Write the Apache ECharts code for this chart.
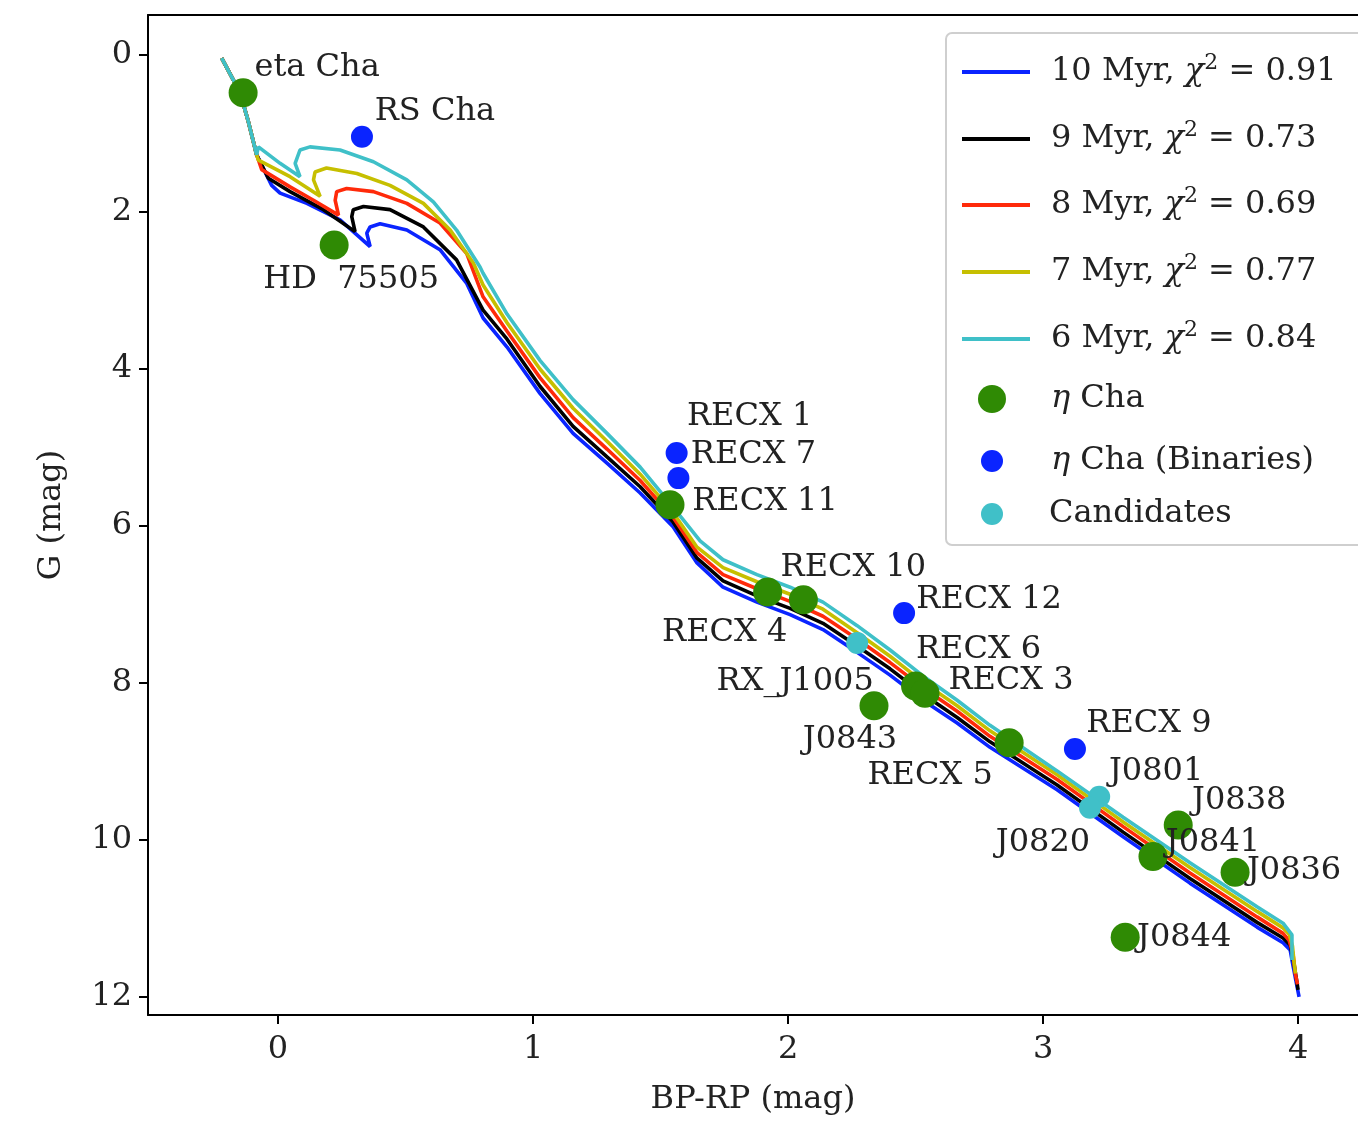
<!DOCTYPE html>
<html>
<head>
<meta charset="utf-8">
<script src="https://cdn.jsdelivr.net/npm/echarts@6/dist/echarts.min.js"></script>
<style>
  html, body { margin: 0; padding: 0; background: #fff; }
  #chart { width: 1358px; height: 1122px; }
</style>
</head>
<body>
<div id="chart"></div>
<script>
// ---------- DATA ----------
const ages = ['10', '9', '8', '7', '6'];
const chi2 = ['0.91', '0.73', '0.69', '0.77', '0.84'];

const iso10 = [[-0.221,0.04],[-0.149,0.48],[-0.118,0.83],[-0.084,1.27],[-0.051,1.49],[-0.025,1.66],[0.008,1.76],[0.113,1.89],[0.243,2.10],[0.361,2.44],[0.348,2.27],[0.361,2.19],[0.40,2.15],[0.505,2.23],[0.635,2.48],[0.74,2.91],[0.804,3.35],[0.898,3.72],[1.027,4.31],[1.157,4.82],[1.29,5.20],[1.42,5.58],[1.549,6.01],[1.643,6.47],[1.745,6.78],[1.878,6.97],[2.008,7.13],[2.137,7.32],[2.271,7.61],[2.40,7.90],[2.529,8.22],[2.663,8.51],[2.792,8.82],[3.055,9.36],[3.314,9.96],[3.576,10.55],[3.839,11.11],[3.941,11.31],[3.969,11.40],[3.976,11.53],[3.996,11.87],[4.004,12.00]];
const iso9 = [[-0.221,0.04],[-0.149,0.48],[-0.118,0.83],[-0.084,1.27],[-0.038,1.57],[0.047,1.74],[0.178,1.97],[0.302,2.25],[0.289,2.06],[0.295,1.97],[0.335,1.93],[0.439,1.97],[0.57,2.19],[0.70,2.61],[0.804,3.25],[0.898,3.62],[1.027,4.22],[1.157,4.73],[1.29,5.12],[1.42,5.50],[1.549,5.95],[1.643,6.41],[1.745,6.70],[1.878,6.89],[2.008,7.05],[2.137,7.24],[2.271,7.53],[2.40,7.82],[2.529,8.14],[2.663,8.44],[2.792,8.75],[3.055,9.30],[3.314,9.90],[3.576,10.49],[3.839,11.05],[3.941,11.25],[3.969,11.34],[3.98,11.50],[3.995,11.80],[4.0,11.91]];
const iso8 = [[-0.221,0.04],[-0.149,0.48],[-0.118,0.83],[-0.084,1.27],[-0.064,1.46],[0.047,1.68],[0.139,1.85],[0.237,2.04],[0.224,1.85],[0.23,1.74],[0.269,1.70],[0.374,1.74],[0.505,1.89],[0.635,2.14],[0.74,2.53],[0.804,3.08],[0.898,3.52],[1.027,4.11],[1.157,4.62],[1.29,5.02],[1.42,5.42],[1.549,5.89],[1.643,6.34],[1.745,6.62],[1.878,6.80],[2.008,6.96],[2.137,7.15],[2.271,7.44],[2.40,7.74],[2.529,8.06],[2.663,8.36],[2.792,8.68],[3.055,9.23],[3.314,9.83],[3.576,10.42],[3.839,10.98],[3.941,11.19],[3.965,11.28],[3.98,11.45],[3.99,11.72],[3.998,11.84]];
const iso7 = [[-0.221,0.04],[-0.149,0.48],[-0.118,0.83],[-0.084,1.27],[-0.077,1.34],[0.047,1.55],[0.165,1.80],[0.139,1.59],[0.145,1.49],[0.19,1.44],[0.309,1.51],[0.439,1.66],[0.57,1.89],[0.675,2.23],[0.766,2.65],[0.804,2.93],[0.898,3.41],[1.027,4.00],[1.157,4.50],[1.29,4.92],[1.42,5.34],[1.549,5.83],[1.643,6.27],[1.745,6.53],[1.878,6.71],[2.008,6.87],[2.137,7.06],[2.271,7.36],[2.40,7.66],[2.529,7.99],[2.663,8.29],[2.792,8.61],[3.055,9.17],[3.314,9.77],[3.576,10.35],[3.839,10.91],[3.941,11.12],[3.965,11.20],[3.978,11.35],[3.985,11.58],[3.99,11.70]];
const iso6 = [[-0.221,0.04],[-0.149,0.48],[-0.118,0.83],[-0.084,1.27],[-0.077,1.17],[0.008,1.38],[0.086,1.55],[0.067,1.38],[0.086,1.21],[0.125,1.17],[0.243,1.21],[0.374,1.36],[0.505,1.59],[0.609,1.87],[0.70,2.23],[0.792,2.70],[0.804,2.78],[0.898,3.30],[1.027,3.89],[1.157,4.39],[1.29,4.82],[1.42,5.25],[1.549,5.76],[1.655,6.19],[1.745,6.43],[1.878,6.62],[2.008,6.78],[2.137,6.97],[2.271,7.27],[2.40,7.58],[2.529,7.91],[2.663,8.22],[2.792,8.54],[3.055,9.12],[3.314,9.71],[3.576,10.29],[3.839,10.85],[3.941,11.06],[3.976,11.21],[3.976,11.53]];

const etaNames = ['eta Cha', 'HD  75505', 'RECX 11', 'RECX 4', 'RECX 10', 'RECX 6', 'RECX 3', 'J0843', 'RECX 5', 'J0838', 'J0841', 'J0836', 'J0844'];
const etaBP = [-0.137, 0.22, 1.537, 1.92, 2.06, 2.50, 2.537, 2.337, 2.867, 3.53, 3.431, 3.753, 3.322];
const etaG  = [0.48, 2.42, 5.73, 6.84, 6.94, 8.04, 8.13, 8.29, 8.76, 9.81, 10.21, 10.41, 11.24];

const binNames = ['RS Cha', 'RECX 1', 'RECX 7', 'RECX 12', 'RECX 9'];
const binBP = [0.329, 1.563, 1.57, 2.455, 3.125];
const binG  = [1.04, 5.07, 5.39, 7.11, 8.84];

const candNames = ['RX_J1005', 'J0801', 'J0820'];
const candBP = [2.271, 3.22, 3.184];
const candG  = [7.49, 9.45, 9.59];

const xTicks = [0, 1, 2, 3, 4];
const yTicks = [0, 2, 4, 6, 8, 10, 12];

// ---------- STYLE ----------
const FONT = 'DejaVu Serif';
const TXT = '#222';
const lineColors = ['#0a24ff', '#000000', '#ff2a0a', '#c6bf00', '#3fc0c8'];
const isoData = [iso10, iso9, iso8, iso7, iso6];
// label offsets (px) from point centre to label centre
const labelOffsets = {
  'eta Cha': [74, -25], 'HD  75505': [17, 35], 'RECX 11': [95, -3], 'RECX 4': [-43, 41],
  'RECX 10': [50, -32], 'RECX 6': [63, -36], 'RECX 3': [86, -12], 'J0843': [-24, 34],
  'RECX 5': [-79, 33], 'J0838': [61, -24], 'J0841': [60, -14], 'J0836': [59, -1], 'J0844': [59, 0],
  'RS Cha': [73, -25], 'RECX 1': [73, -36], 'RECX 7': [75, -23], 'RECX 12': [85, -13], 'RECX 9': [74, -25],
  'RX_J1005': [-62, 39], 'J0801': [57, -25], 'J0820': [-47, 35]
};

function pts(names, xs, ys) {
  return names.map((n, i) => ({
    name: n, value: [xs[i], ys[i]],
    label: { offset: labelOffsets[n] }
  }));
}

const labelStyle = { show: true, position: 'inside', formatter: '{b}', fontFamily: FONT, fontSize: 32, color: TXT };

const series = [];
ages.forEach((a, i) => {
  series.push({
    name: a + ' Myr', type: 'line', data: isoData[i], symbol: 'none', showSymbol: false,
    lineStyle: { color: lineColors[i], width: 3.6 }, itemStyle: { color: lineColors[i] },
    z: 2 + i * 0.01, animation: false
  });
});
series.push({ name: 'η Cha', type: 'scatter', symbolSize: 29, data: pts(etaNames, etaBP, etaG),
  itemStyle: { color: '#2f8a04', opacity: 1 }, label: labelStyle, z: 5, animation: false });
series.push({ name: 'η Cha (Binaries)', type: 'scatter', symbolSize: 22, data: pts(binNames, binBP, binG),
  itemStyle: { color: '#0a24ff', opacity: 1 }, label: labelStyle, z: 5, animation: false });
series.push({ name: 'Candidates', type: 'scatter', symbolSize: 22, data: pts(candNames, candBP, candG),
  itemStyle: { color: '#40c0c8', opacity: 1 }, label: labelStyle, z: 5, animation: false });

// legends: one per row
const lineNames = ages.map(a => a + ' Myr');
const legendNames = lineNames.concat(['η Cha', 'η Cha (Binaries)', 'Candidates']);
const legendRowsY = [67, 134, 200, 267, 334, 394, 456, 509];
const legendIconW = [68, 68, 68, 68, 68, 28, 22, 22];
const legendIconH = [4, 4, 4, 4, 4, 28, 22, 22];
const legendLeft = [957, 957, 957, 957, 957, 973, 976, 976];
const legendPad = [16, 16, 16, 16, 16, 40, 43, 41];
const richStyles = {
  i: { fontStyle: 'italic', fontFamily: FONT, fontSize: 32, color: TXT, lineHeight: 40 },
  s: { fontFamily: FONT, fontSize: 22, color: TXT, verticalAlign: 'top', lineHeight: 40 }
};
const legends = legendNames.map((n, i) => ({
  data: [{ name: n, icon: i < 5 ? 'rect' : 'circle' }], orient: 'vertical',
  left: legendLeft[i], top: legendRowsY[i] - 20,
  itemWidth: legendIconW[i], itemHeight: legendIconH[i], selectedMode: false, z: 6,
  formatter: function (name) {
    const k = lineNames.indexOf(name);
    if (k >= 0) return ages[k] + ' Myr, {i|χ}{s|2} = ' + chi2[k];
    return name.replace('η', '{i|η}');
  },
  textStyle: { fontFamily: FONT, fontSize: 32, color: TXT, lineHeight: 40, padding: [0, 0, 0, legendPad[i]], rich: richStyles }
}));

const axisName = { fontFamily: FONT, fontSize: 32, color: TXT };
const spine = { show: true, onZero: false, lineStyle: { color: '#000', width: 2 } };

const chart = echarts.init(document.getElementById('chart'), null, { renderer: 'canvas' });
chart.setOption({
  backgroundColor: '#fff',
  animation: false,
  grid: { left: 148, top: 15, right: 0, height: 1000, show: false, containLabel: false },
  xAxis: [{
    type: 'value', min: -0.51, max: 4.235, position: 'bottom',
    name: 'BP-RP (mag)', nameLocation: 'middle', nameGap: 69, nameTextStyle: axisName,
    axisLine: spine,
    axisTick: { show: true, customValues: xTicks, length: 9, inside: false, lineStyle: { color: '#000', width: 2 } },
    axisLabel: { customValues: xTicks, fontFamily: FONT, fontSize: 32, color: TXT, margin: 19 },
    splitLine: { show: false }
  }, {
    type: 'value', min: -0.51, max: 4.235, position: 'top',
    axisLine: spine, axisTick: { show: false }, axisLabel: { show: false }, splitLine: { show: false }
  }],
  yAxis: {
    type: 'value', inverse: true, min: -0.51, max: 12.23,
    name: 'G (mag)', nameLocation: 'middle', nameGap: 80, nameRotate: 90, nameTextStyle: axisName,
    axisLine: spine,
    axisTick: { show: true, customValues: yTicks, length: 9, inside: false, lineStyle: { color: '#000', width: 2 } },
    axisLabel: { customValues: yTicks, fontFamily: FONT, fontSize: 32, color: TXT, margin: 16 },
    splitLine: { show: false }
  },
  graphic: [{
    type: 'rect', z: 5, silent: true,
    shape: { x: 946, y: 33, width: 430, height: 512, r: 6 },
    style: { fill: 'rgba(255,255,255,0.85)', stroke: '#cfcfcf', lineWidth: 2 }
  }],
  legend: legends,
  series: series
});
</script>
</body>
</html>
